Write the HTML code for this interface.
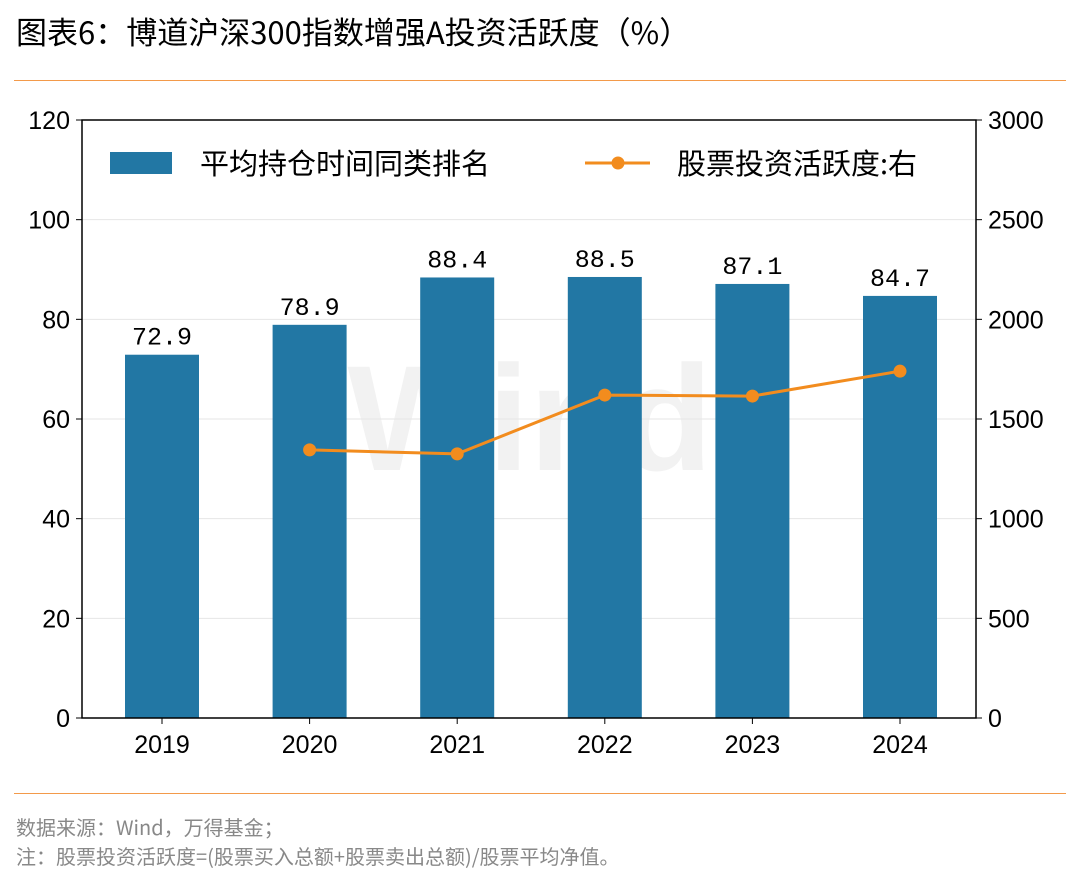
<!DOCTYPE html>
<html><head><meta charset="utf-8"><style>
body{margin:0;background:#fff;width:1080px;height:885px;overflow:hidden;font-family:"Liberation Sans","Noto Sans CJK SC",sans-serif;}
.t{position:absolute;left:16px;top:8px;font-size:31px;color:#000;font-family:"Noto Sans CJK SC",sans-serif;}
.hr{position:absolute;left:14px;width:1052px;height:1px;background:#f39a4a;}
.f{position:absolute;left:16px;font-size:20px;color:#888;font-family:"Noto Sans CJK SC",sans-serif;}
</style></head><body>
<div class="t">图表6：博道沪深300指数增强A投资活跃度（%）</div>
<div class="hr" style="top:80px"></div>
<div class="hr" style="top:793px"></div>
<div class="f" style="top:812px">数据来源：Wind，万得基金；</div>
<div class="f" style="top:841px">注：股票投资活跃度=(股票买入总额+股票卖出总额)/股票平均净值。</div>
<svg id="c" width="1080" height="885" style="position:absolute;left:0;top:0"></svg>
<script>
const years=["2019","2020","2021","2022","2023","2024"];
const rankVals=[72.9,78.9,88.4,88.5,87.1,84.7];
const activityYears=["2020","2021","2022","2023","2024"];
const activityVals=[1345,1325,1620,1615,1740];
const leftTicks=[0,20,40,60,80,100,120];
const rightTicks=[0,500,1000,1500,2000,2500,3000];
const L=82,R=976,T=120,B=718;
const svg=document.getElementById('c');
const ns="http://www.w3.org/2000/svg";
function mk(tag,attrs,parent){const e=document.createElementNS(ns,tag);for(const k in attrs)e.setAttribute(k,attrs[k]);(parent||svg).appendChild(e);return e;}
const yL=v=>B-(v/120)*(B-T);
const yR=v=>B-(v/3000)*(B-T);
const step=147.6;
const xC=i=>162+step*i;
let wm=mk('text',{x:530,y:470,'font-size':150,'font-weight':'bold',fill:'#f2f2f2','text-anchor':'middle','font-family':'Liberation Sans, sans-serif'});
wm.textContent='Wind';


leftTicks.forEach(v=>{
  if(v>0&&v<120){let g=mk('line',{x1:L,x2:R,y1:yL(v),y2:yL(v),stroke:'#e6e6e6','stroke-width':1});
  
  }
  mk('line',{x1:L-6,x2:L,y1:yL(v),y2:yL(v),stroke:'#000'});
  let t=mk('text',{x:L-12,y:yL(v)+9,'font-size':25,'text-anchor':'end',fill:'#000'});t.textContent=v;
  
  
});
rightTicks.forEach(v=>{
  mk('line',{x1:R,x2:R+6,y1:yR(v),y2:yR(v),stroke:'#000'});
  let t=mk('text',{x:R+12,y:yR(v)+9,'font-size':25,'text-anchor':'start',fill:'#000'});t.textContent=v;
  
  
});
years.forEach((y,i)=>{
  let b=mk('rect',{x:xC(i)-37,y:yL(rankVals[i]),width:74,height:B-yL(rankVals[i]),fill:'#2277a4'});
  
  
  let l=mk('text',{x:xC(i),y:yL(rankVals[i])-10,'font-size':25,'text-anchor':'middle',fill:'#000','font-family':'Liberation Mono, monospace'});l.textContent=rankVals[i].toFixed(1);
  
  
  mk('line',{x1:xC(i),x2:xC(i),y1:B,y2:B+6,stroke:'#000'});
  let t=mk('text',{x:xC(i),y:B+35,'font-size':25,'text-anchor':'middle',fill:'#000'});t.textContent=y;
  
  
});
const pts=activityYears.map((y,k)=>[xC(years.indexOf(y)),yR(activityVals[k])]);
let pl=mk('polyline',{points:pts.map(p=>p.join(',')).join(' '),fill:'none',stroke:'#f28c1e','stroke-width':3});


pts.forEach(p=>{let c=mk('circle',{cx:p[0],cy:p[1],r:6.5,fill:'#f28c1e'});

});
let fr=mk('rect',{x:L,y:T,width:R-L,height:B-T,fill:'none',stroke:'#000','stroke-width':1.5});


let lg=mk('g',{});


mk('rect',{x:110,y:152,width:62,height:22,fill:'#2277a4'},lg);
let lt=mk('text',{x:200,y:174,'font-size':29,fill:'#000','font-family':'Noto Sans CJK SC, sans-serif'},lg);lt.textContent='平均持仓时间同类排名';
mk('line',{x1:585,x2:650,y1:163,y2:163,stroke:'#f28c1e','stroke-width':3},lg);
mk('circle',{cx:618,cy:163,r:6.5,fill:'#f28c1e'},lg);
let lt2=mk('text',{x:677,y:174,'font-size':29,fill:'#000','font-family':'Noto Sans CJK SC, sans-serif'},lg);lt2.textContent='股票投资活跃度:右';
</script>
</body></html>
